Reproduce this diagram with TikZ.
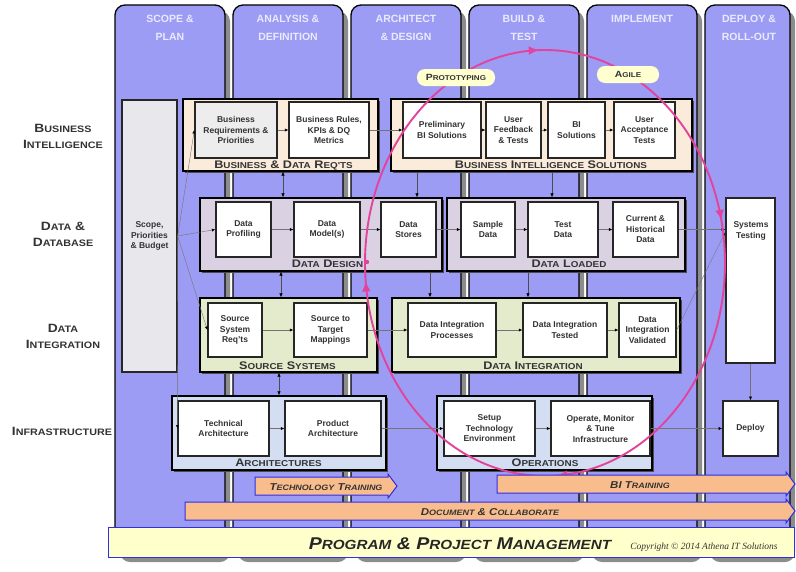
\documentclass[tikz,border=0pt]{standalone}
\usepackage{fontspec}
\setmainfont{Liberation Sans}
\newfontfamily\capfont[FakeStretch=1.15]{Liberation Sans}
\newfontfamily\copyfont{Liberation Serif}
\usetikzlibrary{arrows.meta,shadows,decorations.markings}

\definecolor{phasefill}{HTML}{9C9CF4}
\definecolor{phasetxt}{HTML}{EAEAFF}
\definecolor{bifill}{HTML}{FAEBDA}
\definecolor{ddfill}{HTML}{DAD2E2}
\definecolor{difill}{HTML}{E3EBCC}
\definecolor{infill}{HTML}{D4DEF2}
\definecolor{scopefill}{HTML}{E8E8EC}
\definecolor{loopcol}{HTML}{E2449C}
\definecolor{barfill}{HTML}{F9BD8D}
\definecolor{barline}{HTML}{2E2EE6}
\definecolor{pmfill}{HTML}{FFFFCC}
\definecolor{pillfill}{HTML}{FFFFCF}
\definecolor{ink}{HTML}{333333}

% small caps built from scaled capitals
\newcommand{\Sm}[1]{\scalebox{0.78}{#1}}

\tikzset{
  phase/.style={draw=black, line width=1.3pt, fill=phasefill, rounded corners=10pt, inner sep=0pt,
    drop shadow={shadow xshift=5pt, shadow yshift=-6pt, fill=black!45, opacity=1}},
  hd/.style={font=\bfseries\fontsize{10.5}{12}\selectfont, text=phasetxt, anchor=base, inner sep=0pt},
  rowlbl/.style={font=\capfont\bfseries\fontsize{12}{14}\selectfont, text=ink, anchor=base, inner sep=0pt},
  grp/.style={draw=black, line width=1.4pt, inner sep=0pt,
    drop shadow={shadow xshift=1.5pt, shadow yshift=-1.5pt, fill=black!70, opacity=1}},
  grplbl/.style={font=\capfont\bfseries\fontsize{11}{13}\selectfont, text=ink, anchor=base, inner sep=0pt},
  box/.style={draw=black!85, line width=1.3pt, fill=white, inner sep=1pt, align=center,
    font=\bfseries\fontsize{8.5}{10.5}\selectfont, text=ink},
  flow/.style={draw=black!55, line width=0.4pt, -{Latex[length=3.5pt,width=3pt,color=black]}},
  updown/.style={draw=black!70, line width=0.5pt,
    {Latex[length=4pt,width=3.5pt,color=black]}-{Latex[length=4pt,width=3.5pt,color=black]}},
  down/.style={draw=black!70, line width=0.5pt, -{Latex[length=4pt,width=3.5pt,color=black]}},
  bar/.style={fill=barfill, draw=barline, line width=1pt},
  barlbl/.style={font=\capfont\bfseries\itshape\fontsize{10}{12}\selectfont, text=ink, anchor=base, inner sep=0pt},
  pill/.style={fill=pillfill, rounded corners=8pt, inner sep=0pt,
    font=\capfont\bfseries\fontsize{9}{10}\selectfont, text=ink},
  loopline/.style={draw=loopcol, line width=1.9pt},
}

\begin{document}
\begin{tikzpicture}[x=1pt,y=-1pt]
\useasboundingbox (0,0) rectangle (796,571);
\fill[white] (0,0) rectangle (796,571);

% ---------- phase columns ----------
\node[phase, minimum width=110, minimum height=551] (c1) at (170,280.5) {};
\node[phase, minimum width=110, minimum height=551] (c2) at (288,280.5) {};
\node[phase, minimum width=110, minimum height=551] (c3) at (406,280.5) {};
\node[phase, minimum width=110, minimum height=551] (c4) at (524,280.5) {};
\node[phase, minimum width=110, minimum height=551] (c5) at (642,280.5) {};
\node[phase, minimum width=85, minimum height=551] (c6) at (747.5,280.5) {};

\node[hd] (h1a) at (170,22) {SCOPE \&};
\node[hd] (h1b) at (170,40) {PLAN};
\node[hd] (h2a) at (288,22) {ANALYSIS \&};
\node[hd] (h2b) at (288,40) {DEFINITION};
\node[hd] (h3a) at (406,22) {ARCHITECT};
\node[hd] (h3b) at (406,40) {\& DESIGN};
\node[hd] (h4a) at (524,22) {BUILD \&};
\node[hd] (h4b) at (524,40) {TEST};
\node[hd] (h5a) at (642,22) {IMPLEMENT};
\node[hd] (h6a) at (749,22) {DEPLOY \&};
\node[hd] (h6b) at (749,40) {ROLL-OUT};

% ---------- row labels ----------
\node[rowlbl] (r1a) at (63,132) {B\Sm{USINESS}};
\node[rowlbl] (r1b) at (63,148) {I\Sm{NTELLIGENCE}};
\node[rowlbl] (r2a) at (63,230) {D\Sm{ATA} \&};
\node[rowlbl] (r2b) at (63,246) {D\Sm{ATABASE}};
\node[rowlbl] (r3a) at (63,332) {D\Sm{ATA}};
\node[rowlbl] (r3b) at (63,348) {I\Sm{NTEGRATION}};
\node[rowlbl] (r4a) at (62,435) {I\Sm{NFRASTRUCTURE}};

% ---------- scope box ----------
\node[box, fill=scopefill, minimum width=55, minimum height=272] (scope) at (149.5,236)
  {Scope,\\Priorities\\\& Budget};

% ---------- group frames ----------
\node[grp, fill=bifill, minimum width=195, minimum height=72] (bdr) at (280.5,135) {};
\node[grp, fill=bifill, minimum width=301, minimum height=72] (bisg) at (541.5,135) {};
\node[grp, fill=ddfill, minimum width=242, minimum height=73] (dd) at (321,234.5) {};
\node[grp, fill=ddfill, minimum width=238, minimum height=73] (dl) at (566,234.5) {};
\node[grp, fill=difill, minimum width=177, minimum height=74] (ss) at (288.5,335) {};
\node[grp, fill=difill, minimum width=288, minimum height=74] (dig) at (536,335) {};
\node[grp, fill=infill, minimum width=214, minimum height=74] (arch) at (279,433) {};
\node[grp, fill=infill, minimum width=215, minimum height=74] (ops) at (544.5,433) {};

\node[grplbl] (bdrl) at (283.5,168) {B\Sm{USINESS} \& D\Sm{ATA} R\Sm{EQ'TS}};
\node[grplbl] (bisl) at (551,168) {B\Sm{USINESS} I\Sm{NTELLIGENCE} S\Sm{OLUTIONS}};
\node[grplbl] (ddl) at (327.5,267) {D\Sm{ATA} D\Sm{ESIGN}};
\node[grplbl] (dll) at (569,267) {D\Sm{ATA} L\Sm{OADED}};
\node[grplbl] (ssl) at (287.5,369) {S\Sm{OURCE} S\Sm{YSTEMS}};
\node[grplbl] (digl) at (533,369) {D\Sm{ATA} I\Sm{NTEGRATION}};
\node[grplbl] (archl) at (278.5,466) {A\Sm{RCHITECTURES}};
\node[grplbl] (opsl) at (545,466) {O\Sm{PERATIONS}};

% ---------- activity boxes ----------
\node[box, fill=black!7, minimum width=82, minimum height=56] (brp) at (236,130) {Business\\Requirements \&\\Priorities};
\node[box, minimum width=80, minimum height=56] (brk) at (329,130) {Business Rules,\\KPIs \& DQ\\Metrics};
\node[box, minimum width=78, minimum height=56] (pbi) at (442,130) {Preliminary\\BI Solutions};
\node[box, minimum width=55, minimum height=56] (uft) at (513.5,130) {User\\Feedback\\\& Tests};
\node[box, minimum width=57, minimum height=56] (bis) at (576.5,130) {BI\\Solutions};
\node[box, minimum width=61, minimum height=56] (uat) at (644.5,130) {User\\Acceptance\\Tests};

\node[box, minimum width=55, minimum height=55] (dp) at (243.5,229.5) {Data\\Profiling};
\node[box, minimum width=66, minimum height=55] (dm) at (327,229.5) {Data\\Model(s)};
\node[box, minimum width=55, minimum height=55] (ds) at (408.5,229.5) {Data\\Stores};
\node[box, minimum width=54, minimum height=55] (sd) at (488,229.5) {Sample\\Data};
\node[box, minimum width=70, minimum height=55] (td) at (563,229.5) {Test\\Data};
\node[box, minimum width=65, minimum height=55] (chd) at (645.5,229.5) {Current \&\\Historical\\Data};

\node[box, minimum width=54, minimum height=54] (ssr) at (235,330) {Source\\System\\Req'ts};
\node[box, minimum width=73, minimum height=54] (stm) at (330.5,330) {Source to\\Target\\Mappings};
\node[box, minimum width=88, minimum height=54] (dip) at (452,330) {Data Integration\\Processes};
\node[box, minimum width=84, minimum height=54] (dit) at (565,330) {Data Integration\\Tested};
\node[box, minimum width=57, minimum height=54] (div) at (647.5,330) {Data\\Integration\\Validated};

\node[box, minimum width=91, minimum height=55] (ta) at (223.5,428.5) {Technical\\Architecture};
\node[box, minimum width=96, minimum height=55] (pa) at (333,428.5) {Product\\Architecture};
\node[box, minimum width=91, minimum height=55] (ste) at (489.5,428.5) {Setup\\Technology\\Environment};
\node[box, minimum width=99, minimum height=55] (omt) at (600.5,428.5) {Operate, Monitor\\\& Tune\\Infrastructure};

\node[box, line width=1.6pt, minimum width=49, minimum height=165] (sys) at (750.5,280.5) {};
\node[font=\bfseries\fontsize{8.5}{10.5}\selectfont, text=ink, align=center, inner sep=0pt] (systxt) at (751,231) {Systems\\Testing};
\node[box, line width=1.6pt, minimum width=55, minimum height=55] (dep) at (750.5,428.5) {Deploy};

% ---------- flow connectors ----------
\draw[flow] (scope.east) -- (brp.west);
\draw[flow] (scope.east) -- (dp.west);
\draw[flow] (scope.east) -- (ssr.west);
\draw[flow] (scope.east) -- (ta.west);

\draw[flow] (brp) -- (brk);
\draw[flow] (brk) -- (pbi);
\draw[flow] (pbi) -- (uft);
\draw[flow] (uft) -- (bis);
\draw[flow] (bis) -- (uat);

\draw[flow] (dp) -- (dm);
\draw[flow] (dm) -- (ds);
\draw[flow] (ds) -- (sd);
\draw[flow] (sd) -- (td);
\draw[flow] (td) -- (chd);
\draw[flow] (chd.east) -- (chd.east -| sys.west);
\draw[flow] (div.east) -- ([yshift=-3pt]chd.east -| sys.west);

\draw[flow] (ssr) -- (stm);
\draw[flow] (stm) -- (dip);
\draw[flow] (dip) -- (dit);
\draw[flow] (dit) -- (div);

\draw[flow] (ta) -- (pa);
\draw[flow] (pa) -- (ste);
\draw[flow] (ste) -- (omt);
\draw[flow] (omt) -- (dep);
\draw[flow] (sys.south) -- (dep.north);

% ---------- links between layers ----------
\coordinate (xa) at (283,0);
\coordinate (xb) at (417,0);
\coordinate (xc) at (552,0);
\coordinate (xd) at (281,0);
\coordinate (xe) at (430,0);
\coordinate (xf) at (528,0);
\coordinate (xg) at (279,0);
\draw[updown] (bdr.south -| xa) -- (dd.north -| xa);
\draw[down] (bisg.south -| xb) -- (dd.north -| xb);
\draw[down] (bisg.south -| xc) -- (dl.north -| xc);
\draw[updown] (dd.south -| xd) -- (ss.north -| xd);
\draw[down] (dd.south -| xe) -- (dig.north -| xe);
\draw[down] (dl.south -| xf) -- (dig.north -| xf);
\draw[updown] (ss.south -| xg) -- (arch.north -| xg);

% ---------- iteration loop ----------
\draw[loopline, postaction={decorate}, decoration={markings,
    mark=at position 0.24 with {\arrow{Latex[length=10pt,width=9pt]}},
    mark=at position 0.485 with {\arrow{Latex[length=10pt,width=9pt]}},
    mark=at position 0.745 with {\arrow{Latex[length=10pt,width=9pt]}},
    mark=at position 0.965 with {\arrow{Latex[length=10pt,width=9pt]}}}]
  (545,263) ellipse [x radius=180, y radius=213];
\fill[loopcol] (367,262) circle (2.2);

\node[pill, minimum width=78, minimum height=17] (proto) at (456,77.5) {P\Sm{ROTOTYPING}};
\node[pill, minimum width=62, minimum height=17] (agile) at (628,74.5) {A\Sm{GILE}};

% ---------- cross-cutting bands ----------
\draw[bar] (255,477) -- (388,477) -- (388,474) -- (397,486) -- (388,498) -- (388,495) -- (255,495) -- cycle;
\node[barlbl] (tt) at (326,490) {T\Sm{ECHNOLOGY} T\Sm{RAINING}};
\draw[bar] (497,475) -- (786,475) -- (786,472) -- (795,484) -- (786,496) -- (786,493) -- (497,493) -- cycle;
\node[barlbl] (bit) at (640,488) {BI T\Sm{RAINING}};
\draw[bar] (185,502) -- (786,502) -- (786,499) -- (795,511) -- (786,523) -- (786,520) -- (185,520) -- cycle;
\node[barlbl] (dc) at (490,515) {D\Sm{OCUMENT} \& C\Sm{OLLABORATE}};

\draw[fill=pmfill, draw=barline, line width=1pt] (108,527) rectangle (794,557);
\node[font=\capfont\bfseries\itshape\fontsize{17}{20}\selectfont, text=black!85, anchor=base, inner sep=0pt]
  (ppm) at (460,549) {P\Sm{ROGRAM} \& P\Sm{ROJECT} M\Sm{ANAGEMENT}};
\node[font=\copyfont\itshape\fontsize{9.5}{11}\selectfont, text=ink, anchor=base, inner sep=0pt]
  (copy) at (704,549) {Copyright \textcopyright{} 2014 Athena IT Solutions};
\end{tikzpicture}
\end{document}
